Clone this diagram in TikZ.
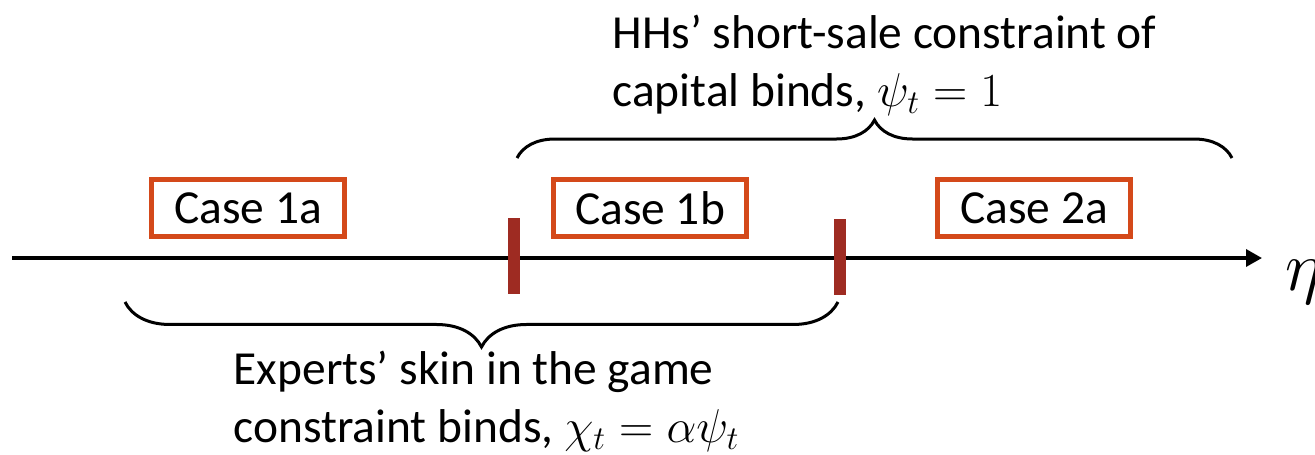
\documentclass[tikz,border=0pt]{standalone}
\usepackage{fix-cm}
\usepackage{fontspec}
\setmainfont{Carlito}
\usetikzlibrary{positioning,decorations.pathreplacing,arrows.meta}
\definecolor{caseorange}{HTML}{D4491A}
\definecolor{tickred}{HTML}{9E2B22}

\begin{document}
\begin{tikzpicture}[x=0.02cm, y=0.02cm, thick,
		casebox/.style={draw=caseorange, line width=0.1cm, minimum width=3.86cm, minimum height=1.16cm, inner sep=0pt, font=\fontsize{27}{33}\selectfont},
		tickmark/.style={fill=tickred, draw=none},
		bracket/.style={decorate, decoration={brace, amplitude=#1}, line width=0.06cm},
		note/.style={align=left, font=\fontsize{27}{33}\selectfont, inner sep=0pt}]
	\useasboundingbox (0,0) rectangle (1315,454);

	\coordinate(start) at (12, 196);
	\coordinate(stop) at (1262, 196);
	\draw[line width=0.07cm, -{Triangle[length=0.32cm, width=0.34cm]}] (start)--(stop);
	\node[font=\fontsize{40}{48}\selectfont, anchor=west, inner sep=0pt] (eta) at (1285, 172) {$\eta$};

	% thresholds on the axis
	\fill[tickmark] (508, 160) rectangle (520, 236);
	\fill[tickmark] (834, 159) rectangle (846, 235);

	\node[casebox] (c1a) at (248, 246) {Case 1a};
	\node[casebox] (c1b) at (650, 246) {Case 1b};
	\node[casebox] (c2a) at (1034, 246) {Case 2a};

	% households: psi = 1 region
	\coordinate(hhL) at (517, 296);
	\coordinate(hhR) at (1232, 296);
	\draw[bracket=0.76cm] (hhL)--(hhR)
		node[note, midway, above=0.82cm, xshift=0.2cm] (hh) {HHs’ short-sale constraint of\\capital binds, $\psi_t = 1$};

	% experts: skin in the game region
	\coordinate(exL) at (125, 152);
	\coordinate(exR) at (838, 152);
	\draw[bracket=0.9cm] (exR)--(exL)
		node[note, midway, below=0.95cm, xshift=0.1cm] (ex) {Experts’ skin in the game\\constraint binds, $\chi_t = \alpha\psi_t$};
\end{tikzpicture}
\end{document}
